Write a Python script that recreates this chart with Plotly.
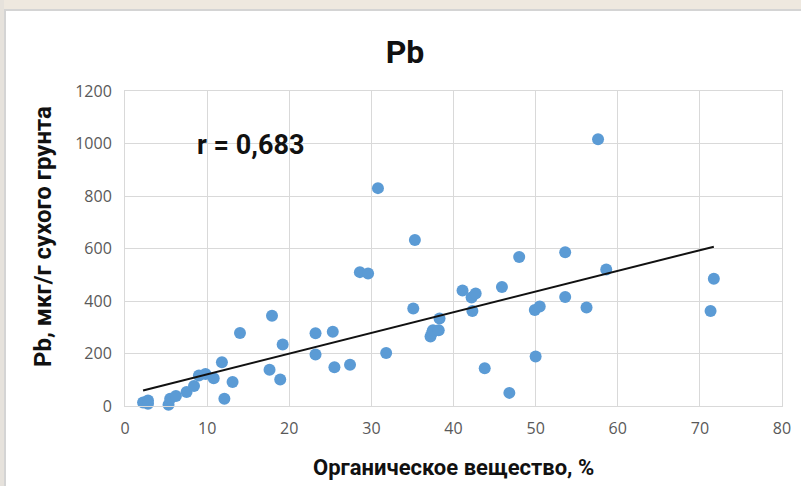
import plotly.graph_objects as go

# Organic matter, % (x) and Pb, µg/g dry soil (y)
organic = [2.2, 2.8, 2.8, 5.3, 5.5, 6.2, 7.5, 8.4, 9.0, 9.8, 10.8, 11.8, 12.1, 13.1, 14.0,
           17.6, 17.9, 18.9, 19.2, 23.2, 23.2, 25.3, 25.5, 27.4, 28.6, 29.6, 30.8, 31.8,
           35.1, 35.3, 37.2, 37.4, 37.5, 38.2, 38.3, 41.1, 42.2, 42.3, 42.7, 43.8, 45.9,
           46.8, 48.0, 49.9, 50.0, 50.5, 53.6, 53.6, 56.2, 57.6, 58.6, 71.3, 71.7]
pb = [13, 21, 9, 5, 28, 38, 53, 76, 116, 122, 106, 167, 28, 91, 278,
      138, 344, 101, 234, 277, 196, 283, 148, 157, 510, 505, 830, 202,
      371, 632, 265, 280, 289, 289, 333, 440, 413, 362, 429, 144, 453,
      50, 568, 366, 189, 379, 586, 415, 375, 1016, 520, 362, 485]

trend_x = [2.2, 71.7]
trend_y = [59, 607]

x_ticks = [0, 10, 20, 30, 40, 50, 60, 70, 80]
y_ticks = [0, 200, 400, 600, 800, 1000, 1200]

L, R, T, B = 125, 19, 91, 80
W, H = 801, 486
PW, PH = W - L - R, H - T - B


def px_to_paper_x(px):
    return (px - L) / PW


def py_to_paper_y(py):
    return (H - B - py) / PH


fig = go.Figure()
fig.add_trace(go.Scatter(x=organic, y=pb, mode="markers",
                         marker=dict(color="#5B9BD5", size=12, line=dict(width=0)),
                         cliponaxis=False, showlegend=False))
fig.add_trace(go.Scatter(x=trend_x, y=trend_y, mode="lines",
                         line=dict(color="#111111", width=2), showlegend=False))

tick_font = "Open Sans, Liberation Sans, Arial, sans-serif"
bold_font = "Roboto, Open Sans, Liberation Sans, Arial, sans-serif"

fig.update_layout(
    width=W, height=H,
    margin=dict(l=L, r=R, t=T, b=B),
    paper_bgcolor="white", plot_bgcolor="white",
    title=dict(text="<b>Pb</b>", x=(405 / W), xanchor="center", y=1 - 52 / H, yanchor="middle",
               font=dict(family=bold_font, size=32, color="#111111")),
    xaxis=dict(range=[0, 80], tickvals=x_ticks, showgrid=True, gridcolor="#D9D9D9",
               gridwidth=1, zeroline=False, showline=True, linecolor="#D9D9D9",
               mirror=True, ticks="", ticklabelstandoff=8, automargin=False,
               tickfont=dict(family=tick_font, size=16, color="#595959")),
    yaxis=dict(range=[0, 1200], tickvals=y_ticks, showgrid=True, gridcolor="#D9D9D9",
               gridwidth=1, zeroline=False, showline=True, linecolor="#D9D9D9",
               mirror=True, ticks="", ticklabelstandoff=9, automargin=False,
               tickfont=dict(family=tick_font, size=16, color="#595959")),
    annotations=[
        dict(x=15.3, y=994, xref="x", yref="y", text="<b>r = 0,683</b>",
             showarrow=False, font=dict(family=bold_font, size=27, color="#111111")),
        dict(x=px_to_paper_x(453), y=py_to_paper_y(467), xref="paper", yref="paper",
             text="<b>Органическое вещество, %</b>", showarrow=False,
             xanchor="center", yanchor="middle",
             font=dict(family=bold_font, size=22, color="#111111")),
        dict(x=px_to_paper_x(43), y=py_to_paper_y(237), xref="paper", yref="paper",
             text="<b>Pb, мкг/г сухого грунта</b>", showarrow=False, textangle=-90,
             xanchor="center", yanchor="middle",
             font=dict(family=bold_font, size=24, color="#111111")),
    ],
    shapes=[
        dict(type="rect", xref="paper", yref="paper", x0=px_to_paper_x(-5), x1=px_to_paper_x(810),
             y0=py_to_paper_y(9), y1=py_to_paper_y(-5), fillcolor="#EEE8DF",
             line=dict(width=0), layer="below"),
        dict(type="rect", xref="paper", yref="paper", x0=px_to_paper_x(-5), x1=px_to_paper_x(4),
             y0=py_to_paper_y(495), y1=py_to_paper_y(-5), fillcolor="#E6E2DC",
             line=dict(width=0), layer="below"),
        dict(type="line", xref="paper", yref="paper", x0=px_to_paper_x(4), x1=px_to_paper_x(810),
             y0=py_to_paper_y(10), y1=py_to_paper_y(10), line=dict(color="#D4D4D4", width=2)),
        dict(type="line", xref="paper", yref="paper", x0=px_to_paper_x(5), x1=px_to_paper_x(5),
             y0=py_to_paper_y(495), y1=py_to_paper_y(9), line=dict(color="#D4D4D4", width=2)),
    ],
)

fig.write_html("out.html", config={"displayModeBar": False},
               post_script="document.body.style.margin='0px';document.body.style.overflow='hidden';")
